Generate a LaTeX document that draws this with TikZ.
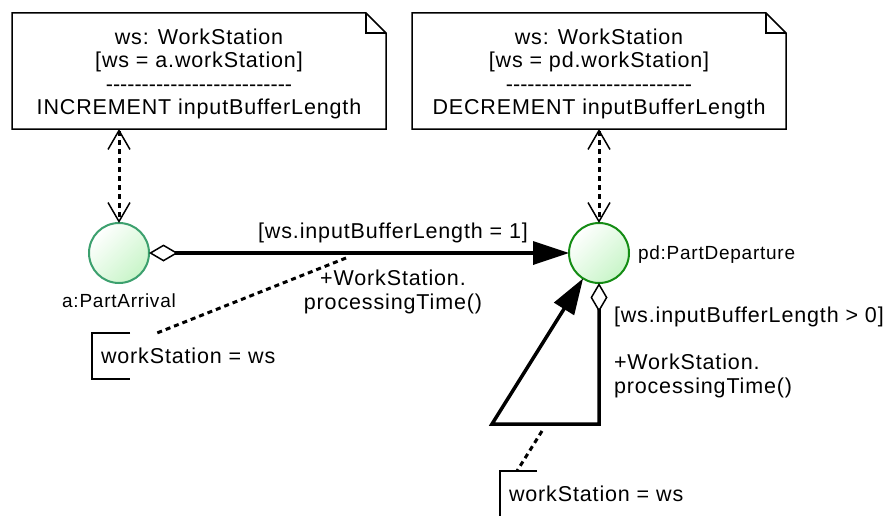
\documentclass[tikz,border=0pt]{standalone}
\usepackage{fontspec}
\setmainfont{Liberation Sans}[LetterSpace=4]
\usetikzlibrary{arrows.meta,calc}
\definecolor{lgreen}{RGB}{200,245,200}
\definecolor{aborder}{RGB}{60,160,110}
\definecolor{pdborder}{RGB}{20,140,20}
\newcommand\mydsh{-\kern0pt}
\newcommand\dashrow{\mydsh\mydsh\mydsh\mydsh\mydsh\mydsh\mydsh\mydsh\mydsh\mydsh\mydsh\mydsh\mydsh\mydsh\mydsh\mydsh\mydsh\mydsh\mydsh\mydsh\mydsh\mydsh\mydsh\mydsh\mydsh\mydsh}
\begin{document}
\begin{tikzpicture}[x=1pt,y=-1pt,
  every node/.style={inner sep=0pt, outer sep=0pt},
  txt/.style={font=\fontsize{21.5pt}{23.5pt}\selectfont},
  small/.style={font=\fontsize{19pt}{21pt}\selectfont},
  notebox/.style={txt, minimum width=374pt, minimum height=116pt, align=center},
  noteline/.style={line width=1.5pt},
  stnode/.style={circle, minimum size=60pt, line width=2pt, top color=white, bottom color=lgreen, shading angle=45},
  flow/.style={line width=3.5pt},
  dotlink/.style={line width=3pt, dash pattern=on 5pt off 4pt},
  vboth/.style={arrows={Straight Barb[length=19pt,width=22pt,line width=1.5pt]-Straight Barb[length=19pt,width=22pt,line width=1.5pt]}},
  flowarrow/.style={flow, arrows={Diamond[open,length=29pt,width=17pt,line width=1.5pt]-Triangle[length=36pt,width=23pt]}}
]
\useasboundingbox[fill=white] (0,0) rectangle (893,516);

% notes
\node[notebox] (n1) at (199,71) {};
\node[txt, align=center] (t1) at (199,74) {ws: WorkStation\\ {[ws = a.workStation]}\\ \dashrow\\ INCREMENT inputBufferLength};
\draw[noteline] (n1.north west) -- ($(n1.north east)+(-20,0)$) -- ($(n1.north east)+(0,20)$) -- (n1.south east) -- (n1.south west) -- cycle;
\draw[noteline] ($(n1.north east)+(-20,0)$) |- ($(n1.north east)+(0,20)$);

\node[notebox] (n2) at (599,71) {};
\node[txt, align=center] (t2) at (599,74) {ws: WorkStation\\ {[ws = pd.workStation]}\\ \dashrow\\ DECREMENT inputBufferLength};
\draw[noteline] (n2.north west) -- ($(n2.north east)+(-20,0)$) -- ($(n2.north east)+(0,20)$) -- (n2.south east) -- (n2.south west) -- cycle;
\draw[noteline] ($(n2.north east)+(-20,0)$) |- ($(n2.north east)+(0,20)$);

% states
\node[stnode, draw=aborder] (a) at (119,253) {};
\node[stnode, draw=pdborder] (pd) at (599,253) {};
\node[small] (alab) at (119,301) {a:PartArrival};
\node[small, anchor=west] (pdlab) at (638,255) {pd:PartDeparture};

% note links
\draw[dotlink, vboth] (n1.south -| a) -- (a);
\draw[dotlink, vboth] (n2.south -| pd) -- (pd);

% main edge
\draw[flowarrow] (a) -- (pd);
\node[txt] (g1) at (393,233) {[ws.inputBufferLength = 1]};
\node[txt, align=center] (m1) at (393,292) {+WorkStation.\\processingTime()};

% self loop
\coordinate (l1) at (599,424);
\coordinate (l2) at (492,424);
\draw[flowarrow] (pd.south) -- (l1) -- (l2) -- (pd);
\node[txt, anchor=west] (g2) at (614,317) {[ws.inputBufferLength > 0]};
\node[txt, anchor=west, align=left] (m2) at (614,376) {+WorkStation.\\processingTime()};

% comments
\node[txt, anchor=west, minimum height=46pt] (c1) at (101,356) {workStation = ws};
\draw[noteline] ($(c1.north west)+(29,0)$) -- ($(c1.north west)+(-9,0)$) -- ($(c1.south west)+(-9,0)$) -- ($(c1.south west)+(29,0)$);
\coordinate (e1) at (346,258);
\draw[dotlink] (e1) -- ($(c1.north west)+(56,0)$);

\node[txt, anchor=west, minimum height=46pt] (c2) at (509,494) {workStation = ws};
\draw[noteline] ($(c2.north west)+(28,0)$) -- ($(c2.north west)+(-9,0)$) -- ($(c2.south west)+(-9,0)$) -- ($(c2.south west)+(28,0)$);
\coordinate (e2) at (542,431);
\draw[dotlink] (e2) -- ($(c2.north west)+(8,0)$);
\end{tikzpicture}
\end{document}
